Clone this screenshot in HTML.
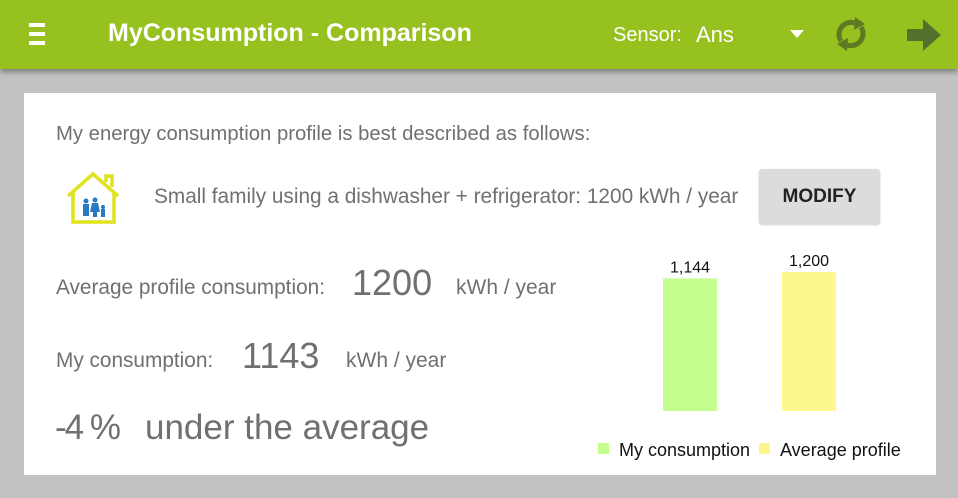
<!DOCTYPE html>
<html><head><meta charset="utf-8"><style>
*{margin:0;padding:0;box-sizing:border-box}
body{width:958px;height:498px;background:#c2c2c2;font-family:"Liberation Sans",sans-serif;position:relative;overflow:hidden}
.abs{position:absolute;white-space:nowrap}
#hdr{position:absolute;left:0;top:0;width:958px;height:69px;background:#96c11f;box-shadow:0 3px 5px rgba(0,0,0,.35)}
#card{position:absolute;left:24px;top:93px;width:912px;height:382px;background:#fff}
.g{color:#707070}
</style></head><body>
<div id="hdr">
 <div class="abs" style="left:29px;top:23px;width:16px;height:24px">
  <div style="height:4px;background:#fff;margin-bottom:5px"></div><div style="height:4px;background:#fff;margin-bottom:5px"></div><div style="height:4px;background:#fff"></div></div>
 <div class="abs" style="left:108px;top:19px;font-size:25px;font-weight:bold;color:#fff">MyConsumption - Comparison</div>
 <div class="abs" style="left:613px;top:24px;font-size:20px;color:#fff">Sensor:</div>
 <div class="abs" style="left:696px;top:22px;font-size:22px;color:#fff">Ans</div>
 <div class="abs" style="left:790px;top:30px;width:0;height:0;border-left:7px solid transparent;border-right:7px solid transparent;border-top:8px solid #fff"></div>
 <svg class="abs" style="left:833px;top:15px" width="36" height="38" viewBox="0 0 36 38"><g fill="none" stroke="#5d7a23" stroke-width="5"><path d="M8 26 A12 12 0 0 1 24 9"/><path d="M28 12 A12 12 0 0 1 12 29"/></g><path d="M22 2 L32 9 L21 15Z" fill="#5d7a23"/><path d="M14 36 L4 29 L15 23Z" fill="#5d7a23"/></svg>
 <svg class="abs" style="left:905px;top:17px" width="38" height="36" viewBox="0 0 38 36"><path d="M2 12 H18 V2 L36 18 L18 34 V24 H2Z" fill="#55702a"/></svg>
</div>
<div id="card"></div>
<div class="abs g" style="left:56px;top:123px;font-size:20.3px">My energy consumption profile is best described as follows:</div>
<svg class="abs" style="left:62px;top:168px" width="64" height="60" viewBox="0 0 64 56">
 <path d="M6 26 L31 4 L56 26 M11 22 V52 H52 V22 M44 12 V6 H50 V17" fill="none" stroke="#dfe41f" stroke-width="3.5"/>
 <g fill="#2a79c2"><circle cx="24" cy="31" r="2.5"/><rect x="21" y="34" width="6" height="12"/><circle cx="33" cy="30" r="2.5"/><path d="M30 33 H36 L38 42 H28Z"/><rect x="31" y="42" width="4" height="5"/><circle cx="41" cy="37" r="2"/><rect x="39" y="39" width="4" height="8"/></g>
</svg>
<div class="abs g" style="left:154px;top:185px;font-size:20.8px">Small family using a dishwasher + refrigerator: 1200 kWh / year</div>
<div class="abs" style="left:759px;top:169px;width:121px;height:55px;background:#dcdcdc;border-radius:3px;box-shadow:0 1px 2px rgba(0,0,0,.2);font-size:19px;font-weight:bold;color:#222;text-align:center;line-height:55px">MODIFY</div>
<div class="abs g" style="left:56px;top:276px;font-size:20.8px">Average profile consumption:</div>
<div class="abs g" style="left:352px;top:262px;font-size:36px">1200</div>
<div class="abs g" style="left:456px;top:276px;font-size:21px">kWh / year</div>
<div class="abs g" style="left:56px;top:349px;font-size:20.8px">My consumption:</div>
<div class="abs g" style="left:242px;top:335px;font-size:36px">1143</div>
<div class="abs g" style="left:346px;top:349px;font-size:21px">kWh / year</div>
<div class="abs g" style="left:55px;top:408px;font-size:35px;letter-spacing:-2px">-4 %</div>
<div class="abs g" style="left:145px;top:408px;font-size:35px">under the average</div>
<svg class="abs" id="chart" style="left:0;top:0" width="958" height="498"></svg>
<script>
const categories=["My consumption","Average profile"];
const values=[1144,1200];
const labels=["1,144","1,200"];
const colors=["#c4fe8c","#fef68e"];
const svg=document.getElementById('chart');
const NS="http://www.w3.org/2000/svg";
const base=411,scale=139/1200,x0=663,step=119,bw=54;
function y(v){return base-v*scale;}
values.forEach((v,i)=>{
 const r=document.createElementNS(NS,'rect');
 
 
 r.setAttribute('x',x0+i*step);r.setAttribute('y',y(v));r.setAttribute('width',bw);r.setAttribute('height',base-y(v));r.setAttribute('fill',colors[i]);
 svg.appendChild(r);
 const t=document.createElementNS(NS,'text');
 
 
 t.setAttribute('x',x0+i*step+bw/2);t.setAttribute('y',y(v)-6);t.setAttribute('text-anchor','middle');t.setAttribute('font-size','16');t.setAttribute('fill','#111');t.setAttribute('font-family','Liberation Sans');
 t.textContent=labels[i];svg.appendChild(t);
});
const lx=[598,759];
categories.forEach((c,i)=>{
 const g=document.createElementNS(NS,'g');
 
 
 const r=document.createElementNS(NS,'rect');
 r.setAttribute('x',lx[i]);r.setAttribute('y',443);r.setAttribute('width',11);r.setAttribute('height',11);r.setAttribute('fill',colors[i]);
 const t=document.createElementNS(NS,'text');
 t.setAttribute('x',lx[i]+21);t.setAttribute('y',456);t.setAttribute('font-size','18');t.setAttribute('fill','#111');t.setAttribute('font-family','Liberation Sans');
 t.textContent=c;g.appendChild(r);g.appendChild(t);svg.appendChild(g);
});
</script>
</body></html>
